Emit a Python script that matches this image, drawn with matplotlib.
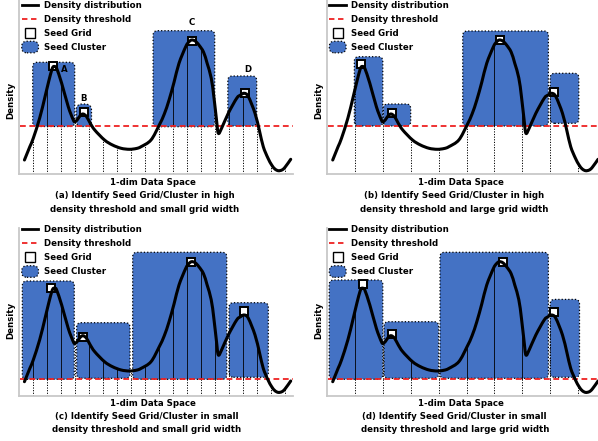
import matplotlib
matplotlib.use("Agg")
import matplotlib.pyplot as plt
import numpy as np
from matplotlib.patches import FancyBboxPatch, PathPatch
from matplotlib.path import Path
from matplotlib.lines import Line2D
from matplotlib.legend_handler import HandlerPatch
import matplotlib.patches as mpatches

# ---------------- data ----------------
curve_x = [0.41, 0.8, 1.04, 1.5, 1.88, 2.15, 2.36, 2.47, 2.6, 2.71, 3.07, 3.54, 3.9,
           4.02, 4.2, 4.4, 4.6, 4.84, 5.1, 5.43, 6.13, 6.7, 7.32, 7.91, 8.4, 8.74,
           9.45, 10.04, 10.4, 10.74, 11.1, 11.45, 11.93, 12.15, 12.35, 12.6, 12.87,
           13.2, 13.46, 13.75, 13.94, 14.13, 14.26, 14.5, 14.97, 15.57, 15.85, 16.11,
           16.4, 16.88, 17.2, 17.47, 17.8, 18.07, 18.3, 18.54, 18.8, 19.02, 19.43]
curve_y = [1.4, 2.75, 3.57, 5.6, 7.73, 9.3, 10.4, 10.73, 10.73, 10.57, 9.07, 6.73, 5.4,
           5.23, 5.45, 5.85, 6.0, 5.75, 5.1, 4.4, 3.4, 2.9, 2.57, 2.47, 2.55, 2.73,
           3.4, 4.9, 6.0, 7.4, 9.2, 11.07, 12.73, 13.2, 13.4, 13.3, 12.9,
           12.2, 11.07, 9.6, 7.73, 5.4, 4.07, 4.6, 6.07, 7.57, 7.9, 8.07,
           7.75, 6.07, 4.3, 2.73, 1.6, 0.9, 0.5, 0.33, 0.4, 0.67, 1.47]

thresholds = [4.8, 4.8, 1.64, 1.64]
grid_widths = [1, 2, 1, 2]

# clusters: (left, right, bottom, top)
clusters_a = [(1.0, 4.0, 4.75, 11.17), (4.1, 5.2, 4.75, 7.0),
              (9.6, 14.0, 4.73, 14.33), (14.94, 17.0, 4.8, 9.8)]
clusters_b = [(1.96, 4.0, 4.8, 11.73), (4.04, 6.0, 4.8, 7.0),
              (9.73, 15.87, 4.8, 14.3), (16.0, 18.05, 5.07, 10.07)]
clusters_c = [(0.26, 3.97, 1.64, 11.47), (4.14, 7.95, 1.74, 7.3),
              (8.14, 14.86, 1.64, 14.34), (15.02, 17.83, 1.84, 9.3)]
clusters_d = [(0.16, 4.0, 1.64, 11.57), (4.09, 8.0, 1.74, 7.4),
              (8.1, 15.87, 1.74, 14.34), (16.0, 18.1, 1.84, 9.63)]

seeds_a = [(2.46, 10.8), (4.68, 6.2), (12.4, 13.3), (16.2, 8.1)]
seeds_b = [(2.41, 11.0), (4.64, 6.13), (12.4, 13.4), (16.3, 8.23)]
seeds_c = [(2.3, 10.8), (4.57, 5.9), (12.29, 13.4), (16.1, 8.47)]
seeds_d = [(2.6, 11.17), (4.64, 6.17), (12.64, 13.4), (16.28, 8.4)]

peak_labels = ["A", "B", "C", "D"]
peak_label_x = [3.24, 4.62, 12.36, 16.35]
peak_label_y = [10.4, 7.57, 15.13, 10.4]

caption_lines = [
    ("(a) Identify Seed Grid/Cluster in high", "density threshold and small grid width"),
    ("(b) Identify Seed Grid/Cluster in high", "density threshold and large grid width"),
    ("(c) Identify Seed Grid/Cluster in small", "density threshold and small grid width"),
    ("(d) Identify Seed Grid/Cluster in small", "density threshold and large grid width"),
]
legend_labels = ["Density distribution", "Density threshold", "Seed Grid", "Seed Cluster"]
xlabel_text = "1-dim Data Space"
ylabel_text = "Density"

# ---------------- layout / style ----------------
W, H = 598, 441
BLUE = "#4472C4"
RED = "#EE2222"
FS = 6.2
# axes boxes in pixels: left, right, top, bottom ; px per x-unit
boxes = [(18.7, 293, 0, 174, 14.0), (327, 598, 0, 174, 13.95),
         (18.7, 293, 228, 395.7, 14.0), (327, 598, 228, 395.7, 13.95)]
PX_Y = 10.0
xlabel_pos = [(153, 182.7), (461, 182.7), (153, 403.3), (460.7, 403.3)]
ylabel_pos = [(11, 100), (319, 100), (11, 320), (319, 320)]
caption_pos = [(145, 196, 209.3), (453.8, 196, 209.3),
               (146.7, 416.7, 429.3), (454.7, 416.7, 429.3)]
legend_x = [21.7, 329.3, 21.7, 329.3]
legend_top = [1.0, 1.0, 225.5, 225.5]

all_clusters = [clusters_a, clusters_b, clusters_c, clusters_d]
all_seeds = [seeds_a, seeds_b, seeds_c, seeds_d]


def smooth_path(xs, ys):
    """Cubic Bezier path through the given points (Catmull-Rom tangents)."""
    pts = np.column_stack([xs, ys])
    n = len(pts)
    verts = [pts[0]]
    codes = [Path.MOVETO]
    for k in range(n - 1):
        p0 = pts[k - 1] if k > 0 else pts[k]
        p1 = pts[k]
        p2 = pts[k + 1]
        p3 = pts[k + 2] if k + 2 < n else pts[k + 1]
        c1 = p1 + (p2 - p0) / 6.0
        c2 = p2 - (p3 - p1) / 6.0
        verts += [c1, c2, p2]
        codes += [Path.CURVE4] * 3
    return Path(np.array(verts), codes)


class RoundBoxHandler(HandlerPatch):
    def create_artists(self, legend, orig_handle, xdescent, ydescent,
                       width, height, fontsize, trans):
        h = height * 1.5
        p = FancyBboxPatch((-xdescent, -ydescent - (h - height) / 2), width, h,
                           boxstyle="round,pad=0,rounding_size=%f" % (h * 0.45),
                           facecolor=BLUE, edgecolor="black", linestyle=":",
                           linewidth=0.9)
        p.set_transform(trans)
        return [p]


fig = plt.figure(figsize=(W / 100, H / 100), dpi=100)
cx = np.array(curve_x)
cy = np.array(curve_y)
curve_path = smooth_path(cx, cy)

for i in range(4):
    l, r, t, b, pxu = boxes[i]
    ax = fig.add_axes([l / W, 1 - b / H, (r - l) / W, (b - t) / H])
    xmax = (r - l) / pxu
    ymax = (b - t) / PX_Y
    ax.set_xlim(0, xmax)
    ax.set_ylim(0, ymax)
    ax.set_xticks([])
    ax.set_yticks([])
    for s in ["top", "right"]:
        ax.spines[s].set_visible(False)
    for s in ["left", "bottom"]:
        ax.spines[s].set_color("#C8C8C8")
        ax.spines[s].set_linewidth(1.3)

    thr = thresholds[i]
    clusters = all_clusters[i]

    # clusters
    for (x0, x1, y0, y1) in clusters:
        rs = 0.32 if (x1 - x0) > 1.5 else 0.45
        p = FancyBboxPatch((x0, y0), x1 - x0, y1 - y0,
                           boxstyle="round,pad=0,rounding_size=%f" % rs,
                           mutation_aspect=pxu / PX_Y,
                           facecolor=BLUE, edgecolor="black", linestyle=":",
                           linewidth=0.9, zorder=1)
        ax.add_patch(p)

    # grid lines
    w = grid_widths[i]
    gx = np.arange(w, xmax, w)
    gh = np.interp(gx, cx, cy)
    for x, h in zip(gx, gh):
        inside = any(c[0] + 0.05 < x < c[1] - 0.05 for c in clusters)
        low = min(h, thr)
        ax.plot([x, x], [0, low], color="black", linestyle=(0, (1.2, 1.5)),
                linewidth=0.7, zorder=2)
        if h > thr:
            if inside:
                ax.plot([x, x], [thr, h], color="black", linestyle="-",
                        linewidth=0.6, zorder=2)
            else:
                ax.plot([x, x], [thr, h], color="black", linestyle=(0, (1.2, 1.5)),
                        linewidth=0.7, zorder=2)

    # threshold
    ax.plot([0.1, xmax], [thr, thr], color=RED, linestyle=(0, (3.2, 2)),
            linewidth=1.3, zorder=3)

    # seed grid squares
    sx = [s[0] for s in all_seeds[i]]
    sy = [s[1] for s in all_seeds[i]]
    ax.plot(sx, sy, linestyle="none", marker="s", markersize=5.5,
            markerfacecolor="white", markeredgecolor="black",
            markeredgewidth=1.4, zorder=4)

    # density curve
    ax.add_patch(PathPatch(curve_path, facecolor="none", edgecolor="black",
                           linewidth=2.2, capstyle="round", joinstyle="round",
                           zorder=5))

    if i == 0:
        for lab, lx, ly in zip(peak_labels, peak_label_x, peak_label_y):
            ax.text(lx, ly, lab, fontsize=FS, fontweight="bold",
                    ha="center", va="center", zorder=6)

    # legend
    handles = [
        Line2D([], [], color="black", linewidth=2.0),
        Line2D([], [], color=RED, linestyle=(0, (3, 2)), linewidth=1.3),
        Line2D([], [], linestyle="none", marker="s", markersize=6.5,
               markerfacecolor="white", markeredgecolor="black", markeredgewidth=1.0),
        mpatches.Patch(facecolor=BLUE, edgecolor="black"),
    ]
    ax_x = (legend_x[i] - l) / (r - l)
    ax_y = 1 - (legend_top[i] - t) / (b - t)
    leg = ax.legend(handles, legend_labels, loc="upper left",
                    bbox_to_anchor=(ax_x, ax_y), frameon=False,
                    prop={"size": FS, "weight": "bold"},
                    handlelength=1.95, handleheight=1.0, handletextpad=0.6,
                    labelspacing=0.58, borderpad=0, borderaxespad=0,
                    handler_map={mpatches.Patch: RoundBoxHandler()})
    leg.set_zorder(7)

    # labels
    xp, yp = xlabel_pos[i]
    fig.text(xp / W, 1 - yp / H, xlabel_text, fontsize=FS, fontweight="bold",
             ha="center", va="center")
    xp, yp = ylabel_pos[i]
    fig.text(xp / W, 1 - yp / H, ylabel_text, fontsize=FS, fontweight="bold",
             ha="center", va="center", rotation=90)
    cxp, y1, y2 = caption_pos[i]
    fig.text(cxp / W, 1 - y1 / H, caption_lines[i][0], fontsize=FS,
             fontweight="bold", ha="center", va="center")
    fig.text(cxp / W, 1 - y2 / H, caption_lines[i][1], fontsize=FS,
             fontweight="bold", ha="center", va="center")

fig.savefig("out.png", dpi=100)
